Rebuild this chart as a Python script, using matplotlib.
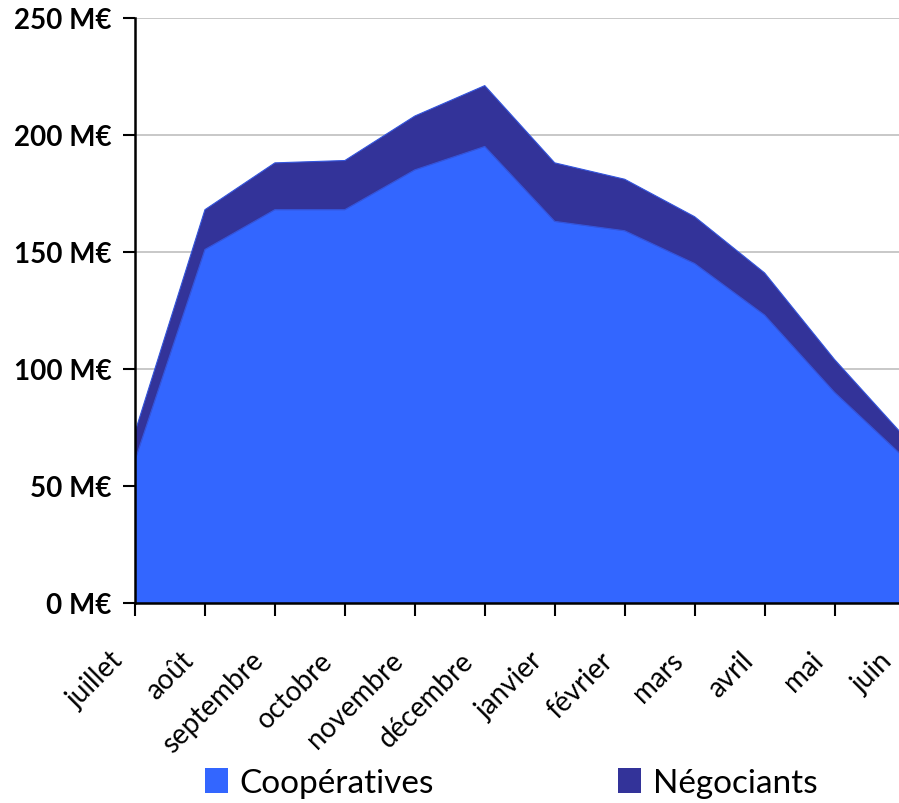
import matplotlib
matplotlib.use("Agg")
import matplotlib.pyplot as plt
import matplotlib.transforms as mtransforms
from matplotlib.patches import Patch

plt.rcParams['font.family'] = ['Lato', 'DejaVu Sans']

months = ["juillet", "août", "septembre", "octobre", "novembre", "décembre",
          "janvier", "février", "mars", "avril", "mai", "juin"]
cooperatives = [61, 151, 168, 168, 185, 195, 163, 159, 145, 123, 90, 62]
totals = [73, 168, 188, 189, 208, 221, 188, 181, 165, 141, 104, 71]
negociants = [t - c for t, c in zip(totals, cooperatives)]
yticks = [0, 50, 100, 150, 200, 250]

COOP = "#3366FF"
NEGO = "#333399"

W, H = 899, 804
fig = plt.figure(figsize=(W / 100, H / 100), dpi=100)
left, right, bottom, top = 135, 904.5, 604, 18.7
ax = fig.add_axes([left / W, 1 - bottom / H, (right - left) / W, (bottom - top) / H])

x = list(range(len(months)))
ax.stackplot(x, cooperatives, negociants, colors=[COOP, NEGO],
             edgecolor=["#3355DD", NEGO], linewidth=0.8, zorder=2)

ax.set_xlim(0, len(months) - 1)
ax.set_ylim(0, 250)
ax.set_yticks(yticks)
ax.set_yticklabels([f"{v} M€" for v in yticks], fontsize=20, fontweight="bold")
ax.set_xticks(x)
ax.set_xticklabels(months, fontsize=20, rotation=45,
                   ha="right", va="center", rotation_mode="anchor")
ax.tick_params(axis="y", length=9, width=1.5, pad=8)
ax.tick_params(axis="x", length=9, width=1.5, pad=29)
# month names sit a little left of their ticks
shift = mtransforms.ScaledTranslation(-16 / 100, 0, fig.dpi_scale_trans)
for lab in ax.get_xticklabels():
    lab.set_transform(lab.get_transform() + shift)
ax.grid(axis="y", color="#BFBFBF", linewidth=1.2, zorder=0)
ax.set_axisbelow(True)
for s in ["top", "right"]:
    ax.spines[s].set_visible(False)
for s in ["left", "bottom"]:
    ax.spines[s].set_linewidth(1.8)
    ax.spines[s].set_zorder(3)

handles = [Patch(facecolor=COOP, label="Coopératives"),
           Patch(facecolor=NEGO, label="Négociants")]
fig.legend(handles=handles, loc="center", bbox_to_anchor=(511 / W, 1 - 784 / H),
           ncol=2, frameon=False, fontsize=24, handlelength=0.69, handleheight=0.75,
           handletextpad=0.36, columnspacing=5.5, borderpad=0)

fig.savefig("out.png", dpi=100)
